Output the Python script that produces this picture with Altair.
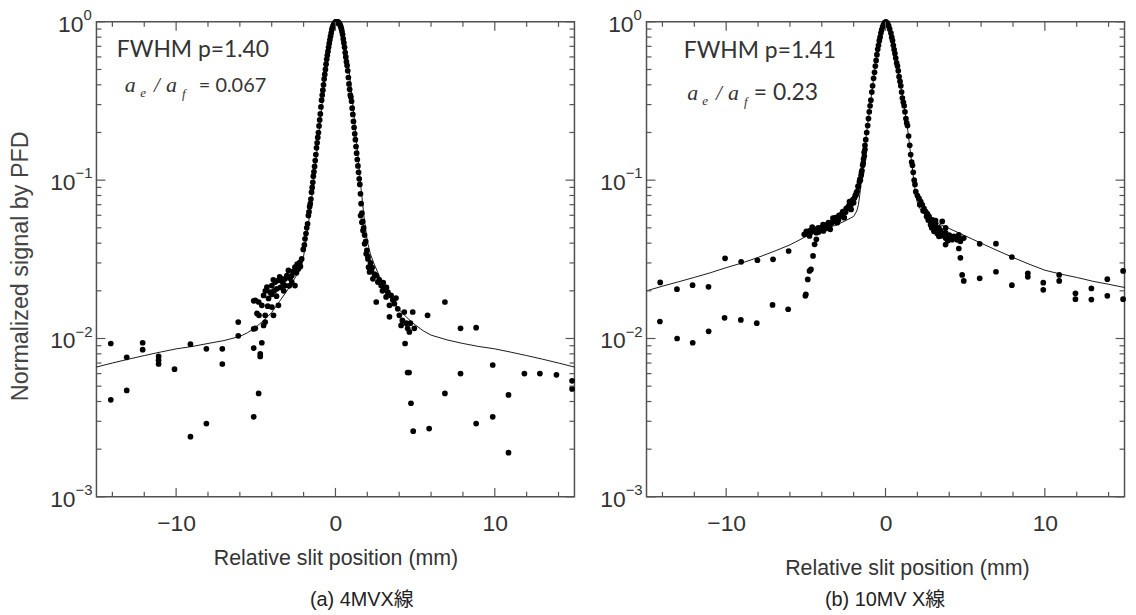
import altair as alt
import pandas as pd

# ---------------- texts ----------------
x_title = "Relative slit position (mm)"
y_title = "Normalized signal by PFD"
fwhm_labels = ["FWHM p=1.40", "FWHM p=1.41"]
ratio_values = ["= 0.067", "= 0.23"]
captions = ["(a) 4MVX線", "(b) 10MV X線"]

# ---------------- tick values ----------------
x_major = [-10, 0, 10]
x_minor = [-14, -12, -8, -6, -4, -2, 2, 4, 6, 8, 12, 14]
y_major = [1, 0.1, 0.01, 0.001]
y_exponents = ["0", "\u22121", "\u22122", "\u22123"]
y_minor = [0.9, 0.8, 0.7, 0.6, 0.5, 0.4, 0.3, 0.2,
           0.09, 0.08, 0.07, 0.06, 0.05, 0.04, 0.03, 0.02,
           0.009, 0.008, 0.007, 0.006, 0.005, 0.004, 0.003, 0.002]

# ---------------- panel (a) 4MV : measured points (x mm, signal) ----------------
a_tail_left = [(-14.1, 0.0093), (-14.1, 0.0041), (-13.1, 0.0076), (-13.1, 0.0047),
               (-12.1, 0.0094), (-12.1, 0.0085), (-11.1, 0.0077), (-11.1, 0.0073),
               (-11.1, 0.0069), (-10.1, 0.0064), (-9.1, 0.0092), (-9.1, 0.0024),
               (-8.1, 0.0086), (-8.1, 0.0029), (-7.1, 0.0086), (-7.1, 0.0069),
               (-6.1, 0.0127), (-6.1, 0.0104), (-5.13, 0.0173), (-5.13, 0.0115),
               (-5.13, 0.0087), (-5.13, 0.0032), (-4.82, 0.0045), (-4.8, 0.0140),
               (-4.72, 0.0077), (-4.62, 0.0094)]
a_cluster_left = [(-5.03, 0.0174), (-4.93, 0.0144), (-5.03, 0.0116), (-4.82, 0.0170),
                  (-4.72, 0.0080), (-4.62, 0.0162), (-4.51, 0.0187), (-4.51, 0.0121),
                  (-4.41, 0.0140), (-4.41, 0.0127), (-4.30, 0.0211), (-4.20, 0.0179),
                  (-4.10, 0.0196), (-3.99, 0.0216), (-3.99, 0.0158), (-3.89, 0.0140),
                  (-3.78, 0.0227), (-3.68, 0.0206), (-3.58, 0.0233), (-3.58, 0.0162),
                  (-3.37, 0.0238), (-3.16, 0.0238), (-3.16, 0.0216), (-2.95, 0.0269),
                  (-2.74, 0.0250), (-2.74, 0.0227), (-2.54, 0.0282), (-2.54, 0.0216),
                  (-2.33, 0.0275), (-2.23, 0.0303), (-2.12, 0.0318), (-4.0, 0.0190),
                  (-3.85, 0.0200), (-3.45, 0.0210), (-3.3, 0.0225), (-3.05, 0.0250),
                  (-2.85, 0.0240), (-2.65, 0.0265), (-2.45, 0.0260), (-4.25, 0.0160),
                  (-3.7, 0.0185), (-3.25, 0.0200), (-2.9, 0.0215), (-2.4, 0.0295),
                  (-2.2, 0.0285), (-3.5, 0.0245), (-3.9, 0.0235), (-4.4, 0.0200)]
a_peak = [(-2.02, 0.0365), (-1.95, 0.0390), (-1.91, 0.0426), (-1.85, 0.046), (-1.80, 0.050),
          (-1.75, 0.053), (-1.70, 0.0597), (-1.66, 0.063), (-1.62, 0.068), (-1.58, 0.071),
          (-1.54, 0.076), (-1.50, 0.084), (-1.46, 0.090), (-1.42, 0.097), (-1.39, 0.106),
          (-1.35, 0.113), (-1.31, 0.122), (-1.27, 0.133), (-1.23, 0.145), (-1.19, 0.160),
          (-1.15, 0.172), (-1.11, 0.186), (-1.07, 0.200), (-1.03, 0.220), (-0.99, 0.240),
          (-0.95, 0.262), (-0.91, 0.290), (-0.87, 0.320), (-0.83, 0.345), (-0.79, 0.370),
          (-0.75, 0.400), (-0.71, 0.435), (-0.67, 0.465), (-0.63, 0.500), (-0.59, 0.540),
          (-0.55, 0.580), (-0.51, 0.615), (-0.47, 0.650), (-0.43, 0.690), (-0.39, 0.730),
          (-0.35, 0.770), (-0.31, 0.810), (-0.27, 0.850), (-0.23, 0.890), (-0.19, 0.920),
          (-0.15, 0.940), (-0.11, 0.960), (-0.07, 0.975), (-0.03, 0.990), (0.01, 1.0),
          (0.05, 1.0), (0.09, 1.0), (0.13, 1.0), (0.17, 0.995), (0.21, 0.985),
          (0.25, 0.975), (0.29, 0.955), (0.33, 0.935), (0.37, 0.905), (0.41, 0.870),
          (0.45, 0.830), (0.49, 0.780), (0.53, 0.735), (0.57, 0.690), (0.61, 0.640),
          (0.65, 0.600), (0.69, 0.560), (0.73, 0.530), (0.77, 0.490), (0.81, 0.445),
          (0.85, 0.405), (0.89, 0.375), (0.93, 0.345), (0.97, 0.335), (1.01, 0.315),
          (1.05, 0.285), (1.09, 0.260), (1.13, 0.235), (1.17, 0.215), (1.21, 0.196),
          (1.25, 0.180), (1.29, 0.163), (1.33, 0.148), (1.37, 0.135), (1.41, 0.123),
          (1.45, 0.112), (1.49, 0.102), (1.53, 0.094), (1.57, 0.082), (1.61, 0.071),
          (1.66, 0.062), (1.71, 0.055), (1.77, 0.050), (1.83, 0.045), (1.90, 0.041),
          (1.97, 0.036), (2.04, 0.033)]
a_cluster_right = [(1.58, 0.0597), (1.66, 0.0542), (1.73, 0.0480), (1.83, 0.0396),
                   (1.93, 0.0342), (2.04, 0.0318), (2.08, 0.0282), (2.14, 0.0263),
                   (2.25, 0.0269), (2.35, 0.0238), (2.56, 0.0250), (2.66, 0.0227),
                   (2.87, 0.0216), (3.08, 0.0206), (3.29, 0.0196), (3.18, 0.0183),
                   (3.49, 0.0187), (2.56, 0.0170), (3.39, 0.0162), (3.70, 0.0166),
                   (3.91, 0.0154), (3.39, 0.0137), (4.01, 0.0140), (4.32, 0.0147),
                   (4.85, 0.0147), (4.12, 0.0121), (4.53, 0.0116), (4.95, 0.0116),
                   (4.64, 0.0110), (5.78, 0.0140), (4.37, 0.0093), (2.45, 0.0255),
                   (2.75, 0.0235), (2.95, 0.0200), (3.0, 0.0225), (3.2, 0.0210),
                   (3.6, 0.0175), (3.8, 0.0180), (4.2, 0.0130), (4.45, 0.0125),
                   (4.7, 0.0125), (2.2, 0.0300), (2.3, 0.0280)]
a_tail_right = [(4.53, 0.0061), (4.62, 0.0061), (4.74, 0.0039), (4.88, 0.0026),
                (5.88, 0.0027), (6.87, 0.0170), (6.87, 0.0045), (7.85, 0.0116),
                (7.85, 0.0060), (8.83, 0.0117), (8.83, 0.0029), (9.87, 0.0068),
                (9.87, 0.0032), (10.86, 0.0044), (10.86, 0.0019), (11.86, 0.0060),
                (12.83, 0.0060), (13.87, 0.0059), (14.85, 0.0054), (14.85, 0.0048)]

# fitted curve (a)
a_fit_x = [-15, -14, -13, -12, -11, -10, -9, -8, -7, -6, -5.5, -5, -4.5, -4, -3.5, -3,
           -2.5, -2.2, -2.0, -1.8, -1.6, -1.4, -1.2, -1.0, -0.8, -0.6, -0.4, -0.2, 0.0,
           0.1, 0.2, 0.4, 0.6, 0.8, 1.0, 1.2, 1.4, 1.6, 1.8, 2.0, 2.2, 2.4, 2.7, 3.0,
           3.5, 4.0, 4.5, 5.0, 5.5, 6.0, 7.0, 8.0, 9.0, 10, 11, 12, 13, 14, 15]
a_fit_v = [0.0066, 0.0070, 0.0074, 0.0078, 0.0082, 0.0086, 0.0089, 0.0093, 0.0097,
           0.0103, 0.0109, 0.0118, 0.0130, 0.0146, 0.0172, 0.0203, 0.0245, 0.0285,
           0.0330, 0.045, 0.062, 0.092, 0.140, 0.215, 0.330, 0.500, 0.700, 0.880, 0.980,
           1.0, 0.990, 0.920, 0.740, 0.540, 0.370, 0.235, 0.145, 0.090, 0.058, 0.041,
           0.034, 0.030, 0.0255, 0.0220, 0.0178, 0.0152, 0.0135, 0.0122, 0.0112, 0.0105,
           0.0098, 0.0093, 0.0089, 0.0086, 0.0082, 0.0078, 0.0074, 0.0070, 0.0066]

# ---------------- panel (b) 10MV : measured points ----------------
b_tail_left = [(-14.14, 0.0226), (-13.09, 0.0205), (-12.11, 0.0217), (-11.11, 0.0212),
               (-10.07, 0.0321), (-9.06, 0.0305), (-8.04, 0.0312), (-7.06, 0.0316),
               (-6.08, 0.0357), (-14.16, 0.0128), (-13.08, 0.0100), (-12.1, 0.0094),
               (-11.1, 0.0111), (-10.1, 0.0135), (-9.08, 0.0131), (-8.08, 0.0125),
               (-7.09, 0.0163), (-6.11, 0.0153), (-5.03, 0.0186), (-5.0, 0.0190),
               (-4.88, 0.0236), (-4.77, 0.0267), (-4.68, 0.0273), (-4.55, 0.0332),
               (-4.45, 0.0393), (-4.34, 0.0423)]
b_cluster_left = [(-5.10, 0.0455), (-4.97, 0.0475), (-4.88, 0.0460), (-4.77, 0.0478),
                  (-4.77, 0.0444), (-4.66, 0.0470), (-4.55, 0.0489), (-4.45, 0.0480),
                  (-4.34, 0.0489), (-4.34, 0.0466), (-4.22, 0.0500), (-4.12, 0.0490),
                  (-4.01, 0.0501), (-3.92, 0.0523), (-3.90, 0.0478), (-3.80, 0.0520),
                  (-3.68, 0.0513), (-3.58, 0.0540), (-3.47, 0.0526), (-3.47, 0.0489),
                  (-3.30, 0.0575), (-3.25, 0.0552), (-3.15, 0.0580), (-3.03, 0.0579),
                  (-3.03, 0.0539), (-2.92, 0.0600), (-2.81, 0.0593), (-2.68, 0.0634),
                  (-2.59, 0.0622), (-2.59, 0.0579), (-2.47, 0.0660), (-2.38, 0.0670),
                  (-2.26, 0.0732), (-2.16, 0.0703), (-2.16, 0.0653), (-2.06, 0.0750),
                  (-1.95, 0.0770), (-1.85, 0.0805), (-1.83, 0.0832), (-1.78, 0.0850),
                  (-1.72, 0.0916), (-1.70, 0.0910), (-1.64, 0.0977), (-1.61, 0.1010),
                  (-1.58, 0.1000), (-1.53, 0.1070), (-1.51, 0.1110), (-1.48, 0.1150),
                  (-4.60, 0.0505), (-4.20, 0.0470), (-3.75, 0.0495), (-3.35, 0.0540),
                  (-2.95, 0.0560), (-2.75, 0.0610), (-2.50, 0.0630), (-2.30, 0.0690),
                  (-2.00, 0.0720), (-1.90, 0.0800)]
b_peak = [(-1.43, 0.124), (-1.40, 0.128), (-1.38, 0.136), (-1.34, 0.150), (-1.33, 0.142),
          (-1.29, 0.166), (-1.29, 0.156), (-1.24, 0.180), (-1.18, 0.200), (-1.12, 0.221),
          (-1.07, 0.245), (-1.02, 0.270), (-0.97, 0.295), (-0.92, 0.320), (-0.86, 0.360),
          (-0.81, 0.394), (-0.75, 0.440), (-0.69, 0.480), (-0.64, 0.525), (-0.59, 0.570),
          (-0.54, 0.620), (-0.49, 0.670), (-0.44, 0.710), (-0.39, 0.760), (-0.34, 0.800),
          (-0.29, 0.850), (-0.24, 0.890), (-0.18, 0.930), (-0.12, 0.960), (-0.05, 0.990),
          (0.02, 1.0), (0.08, 0.990), (0.14, 0.970), (0.20, 0.940), (0.26, 0.900),
          (0.34, 0.850), (0.39, 0.800), (0.44, 0.760), (0.49, 0.710), (0.54, 0.668),
          (0.59, 0.630), (0.64, 0.590), (0.70, 0.550), (0.75, 0.525), (0.80, 0.490),
          (0.85, 0.450), (0.91, 0.420), (0.96, 0.394), (1.01, 0.360), (1.06, 0.330),
          (1.12, 0.310), (1.17, 0.295), (1.22, 0.270), (1.28, 0.245), (1.33, 0.230),
          (1.38, 0.221), (1.45, 0.190), (1.52, 0.166), (1.58, 0.145), (1.64, 0.130),
          (1.69, 0.124), (1.74, 0.112), (1.80, 0.100), (1.85, 0.094), (1.90, 0.0846)]
b_cluster_right = [(2.00, 0.0800), (2.10, 0.0768), (2.21, 0.0732), (2.31, 0.0698),
                   (2.42, 0.0660), (2.52, 0.0634), (2.63, 0.0613), (2.73, 0.0590),
                   (2.83, 0.0523), (2.90, 0.0500), (2.94, 0.0562), (3.00, 0.0520),
                   (3.04, 0.0475), (3.14, 0.0536), (3.14, 0.0556), (3.20, 0.0500),
                   (3.25, 0.0460), (3.35, 0.0499), (3.35, 0.0442), (3.45, 0.0480),
                   (3.56, 0.0549), (3.60, 0.0460), (3.77, 0.0464), (3.77, 0.0431),
                   (3.77, 0.0499), (3.77, 0.0392), (3.97, 0.0442), (4.00, 0.0450),
                   (4.18, 0.0421), (4.29, 0.0442), (4.40, 0.0430), (4.60, 0.0431),
                   (4.60, 0.0452), (4.70, 0.0411), (4.91, 0.0431), (4.60, 0.0370),
                   (4.70, 0.0323), (4.81, 0.0252), (4.91, 0.0231), (2.15, 0.0700),
                   (2.36, 0.0640), (2.58, 0.0590), (2.68, 0.0560), (3.10, 0.0490),
                   (3.50, 0.0445), (3.90, 0.0415), (4.10, 0.0440), (4.50, 0.0420)]
b_tail_right = [(5.91, 0.0396), (5.91, 0.0240), (6.93, 0.0397), (6.93, 0.0264),
                (7.93, 0.0327), (7.93, 0.0217), (8.93, 0.0258), (8.93, 0.0245),
                (9.90, 0.0225), (9.90, 0.0203), (10.90, 0.0252), (10.90, 0.0231),
                (11.92, 0.0193), (11.92, 0.0177), (12.92, 0.0207), (12.92, 0.0176),
                (13.92, 0.0237), (13.92, 0.0186), (14.91, 0.0267), (14.91, 0.0177)]

# fitted curve (b)
b_fit_x = [-15, -14, -13, -12, -11, -10, -9, -8, -7, -6, -5, -4, -3, -2.5, -2.0, -1.8,
           -1.7, -1.6, -1.5, -1.4, -1.2, -1.0, -0.8, -0.6, -0.4, -0.2, 0.0, 0.05, 0.2,
           0.4, 0.6, 0.8, 1.0, 1.2, 1.4, 1.6, 1.7, 1.8, 1.9, 2.0, 2.2, 2.5, 3.0, 3.5,
           4.0, 5.0, 6.0, 7.0, 8.0, 9.0, 10, 11, 12, 13, 14, 15]
b_fit_v = [0.0200, 0.0214, 0.0228, 0.0243, 0.0260, 0.0280, 0.0300, 0.0325, 0.0355,
           0.0390, 0.0440, 0.0485, 0.0525, 0.0555, 0.0590, 0.0640, 0.0700, 0.0830,
           0.1030, 0.1280, 0.1950, 0.2800, 0.4000, 0.5600, 0.7400, 0.9000, 0.9900,
           1.0, 0.9600, 0.8200, 0.6300, 0.4800, 0.3700, 0.2800, 0.2050, 0.1400,
           0.1150, 0.0950, 0.0800, 0.0720, 0.0650, 0.0600, 0.0550, 0.0520, 0.0495,
           0.0445, 0.0400, 0.0360, 0.0325, 0.0295, 0.0270, 0.0255, 0.0243, 0.0230,
           0.0220, 0.0210]

# ---------------- layout constants ----------------
W, H = 481, 478
MAJ, MIN = 9, 5
AXIS_FONT = "Liberation Sans"
ANN_FONT = "Lato"
MATH_FONT = "Liberation Serif"
CJK_FONT = "Liberation Sans, Noto Sans CJK JP, sans-serif"


def txt(s, x, y, size, font=ANN_FONT, style="normal", color="#333333",
        align="left", baseline="alphabetic", angle=0):
    return alt.Chart(pd.DataFrame({"t": [s]})).mark_text(
        align=align, baseline=baseline, fontSize=size, font=font,
        fontStyle=style, color=color, angle=angle
    ).encode(text="t:N", x=alt.value(x), y=alt.value(y))


def panel(points, fit_x, fit_v, idx, title_x, title_y, ann):
    xs = alt.Scale(domain=[-15, 15], nice=False, zero=False)
    ys = alt.Scale(type="log", domain=[0.001, 1], nice=False)
    X = alt.X("x:Q", scale=xs, axis=alt.Axis(
        values=x_major, title=x_title, labelPadding=16,
        titleX=title_x, titleY=title_y, titleAlign="center", titleBaseline="middle"))
    Y = alt.Y("v:Q", scale=ys, axis=alt.Axis(values=y_major, labels=False, title=None))

    pts = alt.Chart(pd.DataFrame(points, columns=["x", "v"])).mark_circle(
        size=33, color="black", opacity=1).encode(x=X, y=Y)
    fit = alt.Chart(pd.DataFrame({"x": fit_x, "v": fit_v})).mark_line(
        color="#1a1a1a", strokeWidth=1).encode(x=X, y=Y)

    ymaj = pd.DataFrame({"v": y_major})
    ymin = pd.DataFrame({"v": y_minor})
    xmaj = pd.DataFrame({"x": x_major})
    xmin = pd.DataFrame({"x": x_minor})
    tick_style = dict(color="#555555", strokeWidth=1.2)
    ticks = [
        alt.Chart(ymaj).mark_rule(**tick_style).encode(y=Y, x=alt.value(0), x2=alt.value(MAJ)),
        alt.Chart(ymaj).mark_rule(**tick_style).encode(y=Y, x=alt.value(W), x2=alt.value(W - MAJ)),
        alt.Chart(ymin).mark_rule(**tick_style).encode(y=Y, x=alt.value(0), x2=alt.value(MIN)),
        alt.Chart(ymin).mark_rule(**tick_style).encode(y=Y, x=alt.value(W), x2=alt.value(W - MIN)),
        alt.Chart(xmaj).mark_rule(**tick_style).encode(x=X, y=alt.value(H), y2=alt.value(H - MAJ)),
        alt.Chart(xmaj).mark_rule(**tick_style).encode(x=X, y=alt.value(0), y2=alt.value(MAJ)),
        alt.Chart(xmin).mark_rule(**tick_style).encode(x=X, y=alt.value(H), y2=alt.value(H - MIN)),
        alt.Chart(xmin).mark_rule(**tick_style).encode(x=X, y=alt.value(0), y2=alt.value(MIN)),
    ]

    # y tick labels "10" with a raised exponent
    lab = pd.DataFrame({"v": y_major, "e": y_exponents})
    lab_top, lab_rest = lab.iloc[:1], lab.iloc[1:]
    ten_style = dict(fontSize=23, font=AXIS_FONT, color="#333333", baseline="middle",
                     align="right", dy=3)
    exp_style = dict(fontSize=15, font=AXIS_FONT, color="#333333", baseline="middle",
                     align="left", dy=-7)
    ylabels = [
        alt.Chart(lab_top).mark_text(text="10", **ten_style).encode(y=Y, x=alt.value(-13)),
        alt.Chart(lab_top).mark_text(**exp_style).encode(y=Y, text="e:N", x=alt.value(-13)),
        alt.Chart(lab_rest).mark_text(text="10", **ten_style).encode(y=Y, x=alt.value(-21)),
        alt.Chart(lab_rest).mark_text(**exp_style).encode(y=Y, text="e:N", x=alt.value(-21)),
    ]

    texts = [
        txt(fwhm_labels[idx], ann["fx"], ann["fy"], 23),
        txt("a", ann["a1"], ann["ry"], 22, font=MATH_FONT, style="italic"),
        txt("e", ann["e"], ann["ry"] + 5, 13, font=MATH_FONT, style="italic"),
        txt("/", ann["sl"], ann["ry"], 21, font=MATH_FONT, style="italic"),
        txt("a", ann["a2"], ann["ry"], 22, font=MATH_FONT, style="italic"),
        txt("f", ann["f"], ann["ry"] + 6, 13, font=MATH_FONT, style="italic"),
        txt(ratio_values[idx], ann["eq"], ann["ry"], ann["eqsize"]),
        txt(captions[idx], ann["cx"], H + 104, 20, font=CJK_FONT, color="#222222",
            align="center", baseline="middle"),
    ]
    if idx == 0:
        texts.append(txt(y_title, -75.5, 246, 23.5, font=AXIS_FONT, color="#444444",
                         align="center", baseline="middle", angle=270))

    return alt.layer(fit, pts, *ticks, *ylabels, *texts).properties(width=W, height=H)


ann_a = dict(fx=20.5, fy=35, a1=28.5, e=44, sl=58, a2=70, f=86, eq=103, eqsize=20,
             ry=71, cx=267)
ann_b = dict(fx=37.5, fy=36, a1=41, e=56, sl=70, a2=82, f=98, eq=108, eqsize=23,
             ry=79, cx=240)

left = panel(a_tail_left + a_cluster_left + a_peak + a_cluster_right + a_tail_right,
             a_fit_x, a_fit_v, 0, 240.5, 62, ann_a)
right = panel(b_tail_left + b_cluster_left + b_peak + b_cluster_right + b_tail_right,
              b_fit_x, b_fit_v, 1, 262, 72, ann_b)

chart = alt.hconcat(left, right, spacing=72.5, bounds="flush").configure_view(
    stroke="#505050", strokeWidth=1.5
).configure_axis(
    grid=False, ticks=False, domain=False,
    labelFont=AXIS_FONT, labelFontSize=23, labelColor="#333333",
    titleFont=AXIS_FONT, titleFontSize=21.5, titleColor="#333333", titleFontWeight="normal"
).properties(padding={"left": 0, "top": -3, "right": 0, "bottom": 0})

chart.save("out.html", embed_options={"renderer": "svg", "actions": False})
